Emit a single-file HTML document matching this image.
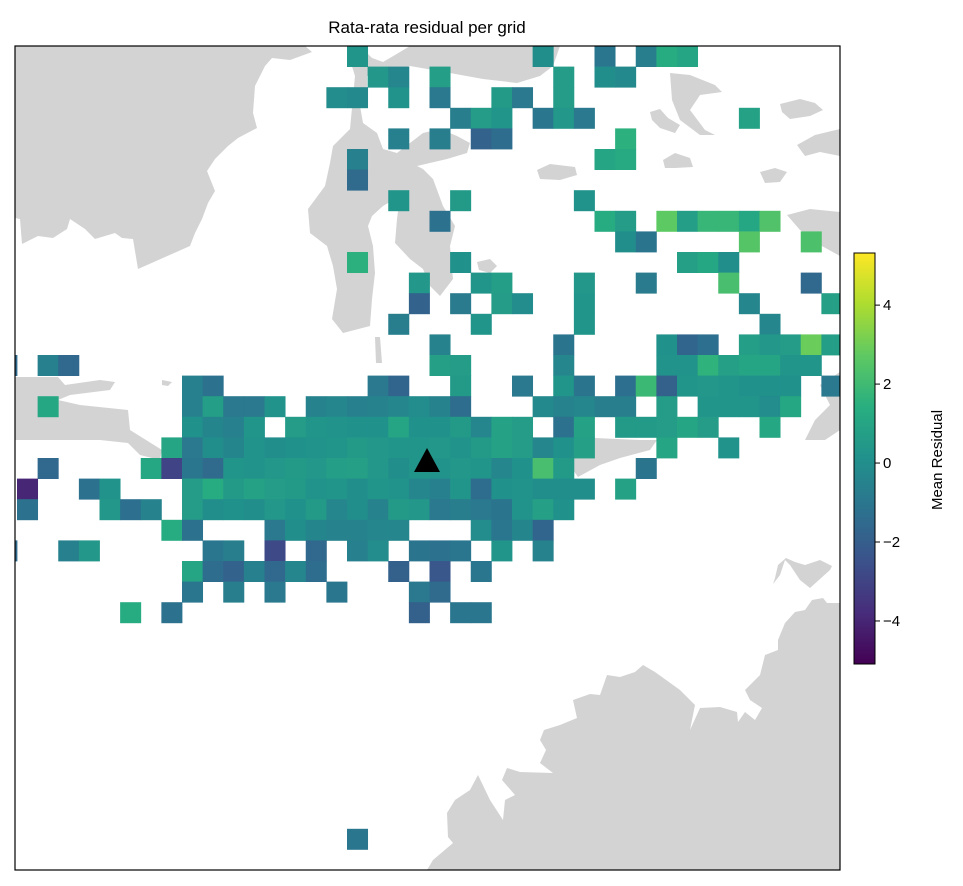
<!DOCTYPE html>
<html><head><meta charset="utf-8">
<style>
html,body{margin:0;padding:0;background:#fff;}
svg{display:block;font-family:"Liberation Sans","DejaVu Sans",sans-serif;}
</style></head>
<body>
<svg id="chart" width="963" height="886" viewBox="0 0 963 886">
<defs>
<clipPath id="plotClip"><rect x="15" y="46" width="825" height="824"/></clipPath>
<linearGradient id="viridis" x1="0" y1="1" x2="0" y2="0">
<stop offset="0" stop-color="#440154"/><stop offset="0.125" stop-color="#472d7b"/><stop offset="0.25" stop-color="#3b528b"/><stop offset="0.375" stop-color="#2c728e"/><stop offset="0.5" stop-color="#21918c"/><stop offset="0.625" stop-color="#28ae80"/><stop offset="0.75" stop-color="#5ec962"/><stop offset="0.875" stop-color="#addc30"/><stop offset="1" stop-color="#fde725"/>
</linearGradient>
</defs>
<text x="427" y="33" text-anchor="middle" font-size="17" fill="#000">Rata-rata residual per grid</text>
<g clip-path="url(#plotClip)">
<rect x="15" y="46" width="825" height="824" fill="#fff"/>
<g fill="#d3d3d3">
<polygon points="15,46 305,46 312,52 290,60 272,58 265,66 255,86 253,113 257,128 238,138 228,146 215,159 207,171 215,191 208,203 202,219 195,233 190,246 138,269 133,239 122,238 115,233 95,239 85,229 70,219 67,229 53,238 38,236 22,244 20,219 15,218"/>
<polygon points="560,46 410,46 395,55 383,62 372,58 360,46 353,46 350,60 355,76 350,129 333,146 330,163 325,186 308,209 310,233 327,246 333,266 337,289 332,319 343,333 370,326 372,299 375,273 373,246 368,226 372,216 383,206 400,196 397,219 395,243 410,259 423,269 430,286 440,296 453,279 450,246 455,226 443,206 433,179 423,169 417,166 447,159 467,153 470,143 457,136 440,129 423,133 410,143 397,153 383,149 377,133 363,123 360,106 367,86 367,76 387,73 410,66 450,73 483,79 517,83 540,76 553,66"/>
<polygon points="477,262 490,259 497,266 490,273 479,270"/>
<polygon points="375,337 380,337 382,363 376,363"/>
<polygon points="537,170 550,164 575,167 577,175 560,180 540,179"/>
<polygon points="663,160 675,153 690,158 693,167 675,168 665,168"/>
<polygon points="670,73 690,75 715,85 722,92 700,95 690,110 705,130 715,135 700,135 680,120 672,100"/>
<polygon points="650,112 660,109 668,118 680,125 675,133 660,128 652,120"/>
<polygon points="780,104 800,99 815,103 823,110 810,116 790,119 782,112"/>
<polygon points="797,145 815,135 840,129 840,156 820,152 805,156"/>
<polygon points="760,172 775,168 787,172 780,182 765,183"/>
<polygon points="787,215 810,209 840,212 840,256 820,245 800,230"/>
<polygon points="820,385 840,372 840,430 825,440 805,440 815,420 830,405"/>
<polygon points="15,377 58,377 65,385 100,380 115,382 110,390 70,395 58,400 80,405 128,410 130,430 162,450 160,460 140,455 128,443 100,440 60,440 15,440"/>
<polygon points="162,380 172,382 168,386 162,385"/>
<polygon points="573,440 595,438 640,440 657,440 650,450 620,458 600,465 578,477 573,470"/>
<polygon points="773,584 780,575 785,560 790,565 800,580 810,588 830,570 832,566 820,560 805,565 795,562 786,558 778,565 775,578"/>
<polygon points="427,870 433,860 453,843 448,837 447,813 455,800 470,790 478,775 490,800 503,820 505,800 515,795 502,780 507,768 520,772 553,773 540,763 546,750 540,740 544,730 560,725 577,718 573,700 590,694 600,695 607,675 620,677 635,672 643,665 655,672 680,690 695,705 690,730 700,708 720,707 737,712 738,722 745,712 755,720 762,708 750,700 745,690 760,675 765,655 778,650 778,640 785,623 795,612 805,610 812,600 823,598 827,603 840,603 840,870"/>
</g>
<g id="cells"></g>
<polygon points="427,448 414,472 440,472" fill="#000"/>
</g>
<rect x="15" y="46" width="825" height="824" fill="none" stroke="#000" stroke-width="1.2"/>
<g id="colorbar">
<rect x="854" y="253" width="21" height="411" fill="url(#viridis)" stroke="#000" stroke-width="1"/>
</g>
<text x="942" y="460" text-anchor="middle" font-size="15" transform="rotate(-90 942 460)">Mean Residual</text>
</svg>
<script>
const cellRows = [0,0,0,0,0,0, 1,1,1,1,1,1, 2,2,2,2,2,2,2, 3,3,3,3,3,3,3, 4,4,4,4,4, 5,5,5, 6, 7,7,7, 8,8,8,8,8,8,8,8,8, 9,9,9,9, 10,10,10,10,10, 11,11,11,11,11,11,11, 12,12,12,12,12,12,12, 13,13,13,13, 14,14,14,14,14,14,14,14,14,14, 15,15,15,15,15,15,15,15,15,15,15,15,15,15, 16,16,16,16,16,16,16,16,16,16,16,16,16,16,16,16,16,16, 17,17,17,17,17,17,17,17,17,17,17,17,17,17,17,17,17,17,17,17,17,17,17,17,17, 18,18,18,18,18,18,18,18,18,18,18,18,18,18,18,18,18,18,18,18,18,18,18,18, 19,19,19,19,19,19,19,19,19,19,19,19,19,19,19,19,19,19,19,19,19,19,19, 20,20,20,20,20,20,20,20,20,20,20,20,20,20,20,20,20,20,20,20,20,20,20, 21,21,21,21,21,21,21,21,21,21,21,21,21,21,21,21,21,21,21,21,21,21,21,21, 22,22,22,22,22,22,22,22,22,22,22,22,22,22,22,22,22,22,22,22,22,22,22, 23,23,23,23,23,23,23,23,23,23,23,23,23, 24,24,24,24,24,24,24,24,24,24,24,24,24,24, 25,25,25,25,25,25,25,25,25,25, 26,26,26,26,26,26, 27,27,27,27,27, 38];
const cellCols = [16,25,28,30,31,32, 17,18,20,26,28,29, 15,16,18,20,23,24,26, 21,22,23,25,26,27,35, 18,20,22,23,29, 16,28,29, 16, 18,21,27, 20,28,29,31,32,33,34,35,36, 29,30,35,38, 16,21,32,33,34, 19,22,23,27,30,34,38, 19,21,23,24,27,35,39, 18,22,27,36, 20,26,31,32,33,35,36,37,38,39, -1,1,2,20,21,26,31,32,33,34,35,36,37,38, 8,9,17,18,21,24,26,27,29,30,31,32,33,34,35,36,37,39, 1,8,9,10,11,12,14,15,16,17,18,19,20,21,25,26,27,28,29,31,33,34,35,36,37, 8,9,10,11,13,14,15,16,17,18,19,20,21,22,23,24,26,27,29,30,31,32,33,36, 7,8,9,10,11,12,13,14,15,16,17,18,19,20,21,22,23,24,25,26,27,31,34, 1,6,7,8,9,10,11,12,13,14,15,16,17,18,19,20,21,22,23,24,25,26,30, 0,3,4,8,9,10,11,12,13,14,15,16,17,18,19,20,21,22,23,24,25,26,27,29, 0,4,5,6,8,9,10,11,12,13,14,15,16,17,18,19,20,21,22,23,24,25,26, 7,8,12,13,14,15,16,17,18,22,23,24,25, -1,2,3,9,10,12,14,16,17,19,20,21,23,25, 8,9,10,11,12,13,14,18,20,22, 8,10,12,15,19,20, 5,7,19,21,22, 16];
const cellValues = [0.3,0,-1.0,-0.7,1.3,1.0, 0.4,-0.3,0.7,0.6,0,-0.2, -0.1,-0.2,0.2,-0.9,0.5,-0.9,0.6, -0.7,0.6,0.3,-1.0,0.4,-0.9,0.9, -0.6,-0.7,-1.8,-1.4,1.5, -0.6,1.0,1.2, -1.5, 0.3,0.5,0.2, -1.2,1.3,0.6,2.7,0.7,1.8,1.8,1.1,2.4, 0,-1.1,2.5,2.3, 1.5,0.1,0.8,1.1,0, 0.4,0.3,0.7,0.4,-0.8,2.2,-1.6, -1.8,-0.8,0.6,-0.1,0.3,-0.3,0.8, -0.7,0.3,0.3,-0.3, -0.5,-1.1,0.1,-1.7,-1.3,0.7,0.4,0.6,2.9,0.7, -1.5,-0.6,-1.6,0.8,0.6,-0.3,0.2,0.2,1.6,0.8,1.0,1.0,0.3,0.3, -0.6,-1.2,-0.9,-1.7,0.5,-0.9,0.3,-1.1,-1.3,1.9,-1.9,0.3,0.4,0.3,0.1,0.1,0.1,-0.9, 1.1,-0.6,0.7,-0.9,-0.9,0.2,-0.5,-0.3,-0.6,-0.5,-0.3,-0.1,-0.5,-1.4,-0.2,-0.5,-0.3,-0.7,-0.7,0.6,0.3,0.3,0.3,-0.1,1.1, 0.1,-0.4,-0.6,0.3,0.6,0.3,0.2,0.1,0.1,1.0,0.1,0.1,0.5,-0.3,0.9,0.6,-1.2,0.9,0.5,0.5,0.6,1.0,0.6,1.1, 1.0,-0.9,0,-0.4,0.2,0,0.1,0.2,0.3,0.5,0.4,0.3,0.3,0.4,0.2,0.5,0.9,0.6,-0.3,0.1,0.8,1.0,0.2, -1.6,1.1,-3.0,-1.0,-1.5,0.3,0.2,0.4,0.5,0.4,0.7,0.8,0.4,0,0.3,0.2,0.4,0.3,-0.3,0.1,2.2,0.5,-1.1, -4.0,-1.2,0.2,0.6,1.3,0.5,0.9,0.6,0.5,0.2,0.3,0,0.3,0.2,-0.3,-0.6,0.3,-1.4,0.1,0.2,0,0,0,0.9, -1.2,0.4,-1.3,-0.5,0.6,0,0.1,0,0.4,0.1,0.5,-0.3,0,-0.5,0.5,0.4,-0.9,-0.7,-0.9,-1.1,0.2,0.8,0.1, 1.3,-1.2,-0.9,0,-0.4,-0.5,-0.5,-0.3,-0.3,-0.1,-1.0,-0.4,-1.7, -1.5,-0.6,0.4,-1.0,-0.7,-2.8,-1.6,-0.6,-0.1,-1.1,-1.2,-1.0,0.3,-0.5, 1.0,-1.4,-1.8,-0.6,-1.6,-0.3,-1.4,-1.9,-2.3,-1.0, -1.0,-0.7,-0.9,-1.0,-0.9,-1.5, 1.3,-1.2,-1.9,-1.0,-1.0, -1.0];
const tickValues = [-4,-2,0,2,4];
const tickLabels = ["\u22124","\u22122","0","2","4"];

const vmin = -5.09, vmax = 5.32;
const gridX0 = 17, gridY0 = 46, cellW = 825/40, cellH = 824/40;
const stops = ["#440154","#472d7b","#3b528b","#2c728e","#21918c","#28ae80","#5ec962","#addc30","#fde725"];
function hex(h){return [parseInt(h.substr(1,2),16),parseInt(h.substr(3,2),16),parseInt(h.substr(5,2),16)];}
function viridis(v){
  let t = Math.max(0, Math.min(1, (v - vmin) / (vmax - vmin)));
  const s = t * (stops.length - 1); const i = Math.min(stops.length - 2, Math.floor(s)); const f = s - i;
  const a = hex(stops[i]), b = hex(stops[i+1]);
  return "rgb(" + a.map((x,k)=>Math.round(x + (b[k]-x)*f)).join(",") + ")";
}
function xScale(c){return gridX0 + c * cellW;}
function yScale(r){return gridY0 + r * cellH;}
function cbScale(v){return 664 - (v - vmin) / (vmax - vmin) * 411;}
const NS = "http://www.w3.org/2000/svg";
const g = document.getElementById("cells");
for (let i = 0; i < cellValues.length; i++) {
  const rect = document.createElementNS(NS, "rect");
  rect.setAttribute("x", xScale(cellCols[i]));
  rect.setAttribute("y", yScale(cellRows[i]));
  rect.setAttribute("width", cellW + 0.4);
  rect.setAttribute("height", cellH + 0.4);
  rect.setAttribute("fill", viridis(cellValues[i]));
  
  
  g.appendChild(rect);
}
const cb = document.getElementById("colorbar");
for (let i = 0; i < tickValues.length; i++) {
  const y = cbScale(tickValues[i]);
  const line = document.createElementNS(NS, "line");
  line.setAttribute("x1", 875); line.setAttribute("x2", 880);
  line.setAttribute("y1", y); line.setAttribute("y2", y);
  line.setAttribute("stroke", "#000");
  
  
  cb.appendChild(line);
  const t = document.createElementNS(NS, "text");
  t.setAttribute("x", 883); t.setAttribute("y", y + 5);
  t.setAttribute("font-size", "15");
  t.textContent = tickLabels[i];
  
  
  cb.appendChild(t);
}
</script>
</body></html>
